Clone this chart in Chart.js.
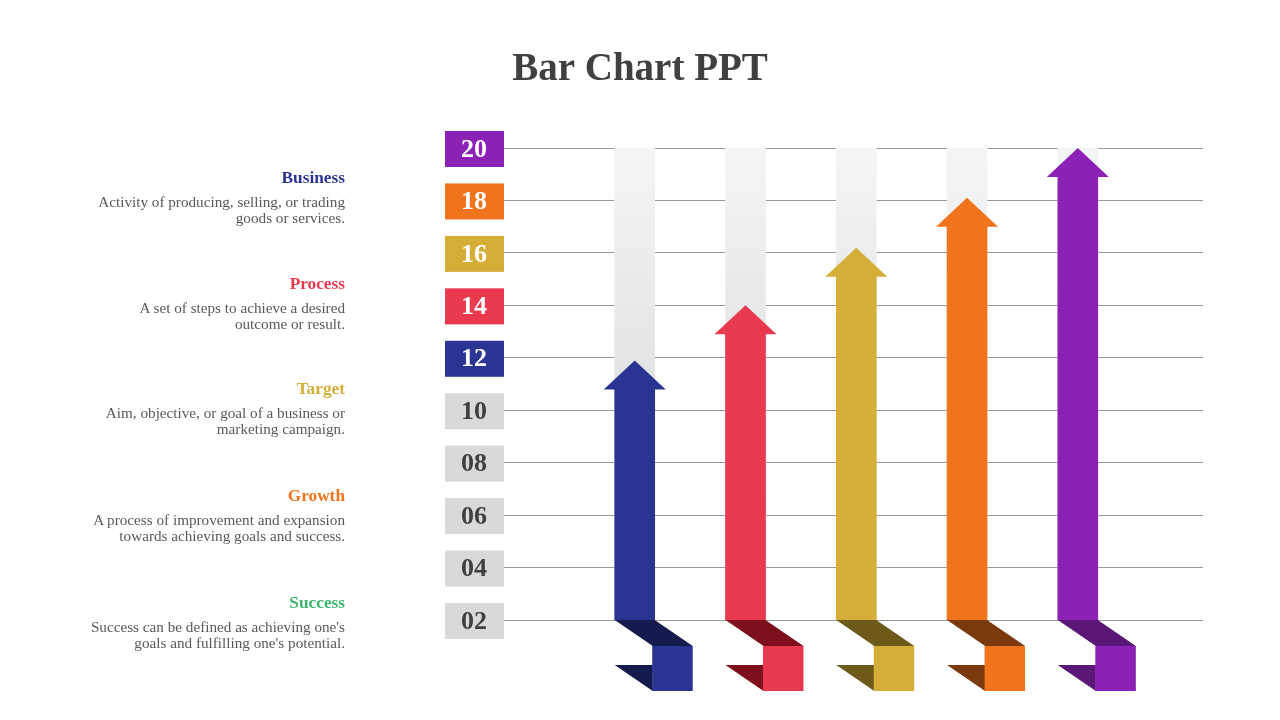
<!DOCTYPE html>
<html>
<head>
<meta charset="utf-8">
<title>Bar Chart PPT</title>
<script src="https://cdn.jsdelivr.net/npm/chart.js@4"></script>
<style>
  html, body { margin: 0; padding: 0; background: #fff; }
  .slide { position: relative; width: 1280px; height: 720px; overflow: hidden; font-family: 'Liberation Serif', 'DejaVu Serif', serif; }
  #chart1 { position: absolute; left: 0; top: 0; }
  .topic { position: absolute; right: 935px; width: 330px; text-align: right; }
  .topic h3 { margin: 0; font-size: 17.3px; line-height: 20px; font-weight: bold; }
  .topic p { margin: 6px 0 0 0; font-size: 15.2px; line-height: 16px; color: #595959; }
</style>
</head>
<body>
<div class="slide">
  <canvas id="chart1" width="1280" height="720"></canvas>
  <div id="topics"></div>
</div>
<script>
// values
const categories = ['Business', 'Process', 'Target', 'Growth', 'Success'];
const arrowValues = [11.9, 14, 16.2, 18.1, 20];
const baseValue = 2;
const maxValue = 20;
const tickValues = [2, 4, 6, 8, 10, 12, 14, 16, 18, 20];
const tickBoxColors = ['#d9d9d9', '#d9d9d9', '#d9d9d9', '#d9d9d9', '#d9d9d9', '#2a3593', '#e8394f', '#d4ae37', '#f0741c', '#8b22b5'];
const arrowColors = ['#2a3593', '#e8394f', '#d4ae37', '#f0741c', '#8b22b5'];
const shadeColors = ['#161b4d', '#7e101e', '#6d5a1b', '#7a3a0d', '#5b1777'];
const topicColors = ['#2a3593', '#e8394f', '#d4ae37', '#f0741c', '#3cb46e'];
const topicTexts = [
  'Activity of producing, selling, or trading<br>goods or services.',
  'A set of steps to achieve a desired<br>outcome or result.',
  'Aim, objective, or goal of a business or<br>marketing campaign.',
  'A process of improvement and expansion<br>towards achieving goals and success.',
  'Success can be defined as achieving one\'s<br>goals and fulfilling one\'s potential.'
];

(function buildTopics() {
  const holder = document.getElementById('topics');
  const tops = [168, 274, 379, 486, 593];
  categories.forEach((name, i) => {
    const div = document.createElement('div');
    div.className = 'topic';
    div.style.top = tops[i] + 'px';
    div.innerHTML = '<h3 style="color:' + topicColors[i] + '">' + name + '</h3><p>' + topicTexts[i] + '</p>';
    holder.appendChild(div);
  });
})();

const HEAD_H = 29;
const HEAD_HALF = 31;
const FOLD_SHIFT = 38;

// colored boxes behind the y tick labels
const tickBoxes = {
  id: 'tickBoxes',
  beforeDraw(chart) {
    const y = chart.scales.y;
    const ctx = chart.ctx;
    const right = chart.chartArea.left;
    ctx.save();
    tickValues.forEach((v, i) => {
      const py = y.getPixelForValue(v);
      ctx.fillStyle = tickBoxColors[i];
      ctx.fillRect(right - 59, py - 17, 59, 36);
    });
    ctx.restore();
  }
};

// arrow heads and folded ribbon under each bar
const arrowShapes = {
  id: 'arrowShapes',
  beforeDatasetDraw(chart, args) {
    if (args.index !== 0) return;
    const ctx = chart.ctx;
    ctx.save();
    ctx.beginPath();
    args.meta.data.forEach((el) => {
      ctx.rect(el.x - el.width / 2 - 1, el.y + HEAD_H - 1, el.width + 2, el.base - el.y - HEAD_H + 1);
    });
    ctx.clip();
  },
  afterDatasetDraw(chart, args) {
    if (args.index !== 0) return;
    const ctx = chart.ctx;
    ctx.restore();
    ctx.save();
    args.meta.data.forEach((el, i) => {
      const w = el.width;
      const L = el.x - w / 2;
      const B = el.base;
      const S = FOLD_SHIFT;
      // head
      ctx.fillStyle = arrowColors[i];
      ctx.beginPath();
      ctx.moveTo(el.x, el.y);
      ctx.lineTo(el.x + HEAD_HALF, el.y + HEAD_H);
      ctx.lineTo(el.x - HEAD_HALF, el.y + HEAD_H);
      ctx.closePath();
      ctx.fill();
      // fold
      ctx.fillStyle = shadeColors[i];
      ctx.beginPath();
      ctx.moveTo(L, B);
      ctx.lineTo(L + w, B);
      ctx.lineTo(L + S + w, B + 26);
      ctx.lineTo(L + S, B + 26);
      ctx.closePath();
      ctx.fill();
      ctx.beginPath();
      ctx.moveTo(L, B + 45);
      ctx.lineTo(L + S, B + 45);
      ctx.lineTo(L + S, B + 71);
      ctx.closePath();
      ctx.fill();
      ctx.fillStyle = arrowColors[i];
      ctx.fillRect(L + S - 0.5, B + 26, w + 0.5, 45);
    });
    ctx.restore();
  }
};

function greyTrack(context) {
  const area = context.chart.chartArea;
  if (!area) return '#e4e5e7';
  const g = context.chart.ctx.createLinearGradient(0, area.top, 0, area.bottom);
  g.addColorStop(0, '#f4f5f7');
  g.addColorStop(0.5, '#e2e3e5');
  g.addColorStop(1, '#e0e1e3');
  return g;
}

new Chart(document.getElementById('chart1'), {
  type: 'bar',
  data: {
    labels: categories,
    datasets: [
      {
        label: 'value',
        data: arrowValues.map((v, i) => ({ x: i, y: [baseValue, v] })),
        backgroundColor: arrowColors,
        borderWidth: 0,
        barThickness: 40,
        grouped: false
      },
      {
        label: 'track',
        data: arrowValues.map((v, i) => ({ x: i, y: [baseValue, maxValue] })),
        backgroundColor: greyTrack,
        borderWidth: 0,
        barThickness: 40,
        grouped: false
      }
    ]
  },
  options: {
    responsive: false,
    devicePixelRatio: 1,
    animation: false,
    events: [],
    layout: { padding: { left: 0, right: 0, bottom: 100, top: 0 } },
    plugins: {
      legend: { display: false },
      tooltip: { enabled: false },
      title: {
        display: true,
        text: 'Bar Chart PPT',
        color: '#404040',
        font: { family: 'Liberation Serif', size: 39, weight: 'bold' },
        padding: { top: 47, bottom: 54.2 }
      }
    },
    scales: {
      x: {
        type: 'linear',
        min: -1.18,
        max: 5.13,
        offset: false,
        display: false
      },
      y: {
        min: baseValue,
        max: maxValue,
        afterFit: (scale) => { scale.width = 504; },
        afterBuildTicks: (scale) => { scale.ticks = tickValues.map((v) => ({ value: v })); },
        border: { display: false },
        grid: { color: '#999999', lineWidth: 1, drawTicks: false },
        ticks: {
          padding: 17,
          labelOffset: 2,
          crossAlign: 'center',
          font: { family: 'Liberation Serif', size: 26, weight: 'bold' },
          color: (ctx) => (ctx.tick && ctx.tick.value >= 12 ? '#ffffff' : '#404040'),
          callback: (v) => String(v).padStart(2, '0')
        }
      },
      yRight: {
        position: 'right',
        afterFit: (scale) => { scale.width = 77; },
        border: { display: false },
        grid: { display: false, drawTicks: false },
        ticks: { display: false }
      }
    }
  },
  plugins: [tickBoxes, arrowShapes]
});
</script>
</body>
</html>
